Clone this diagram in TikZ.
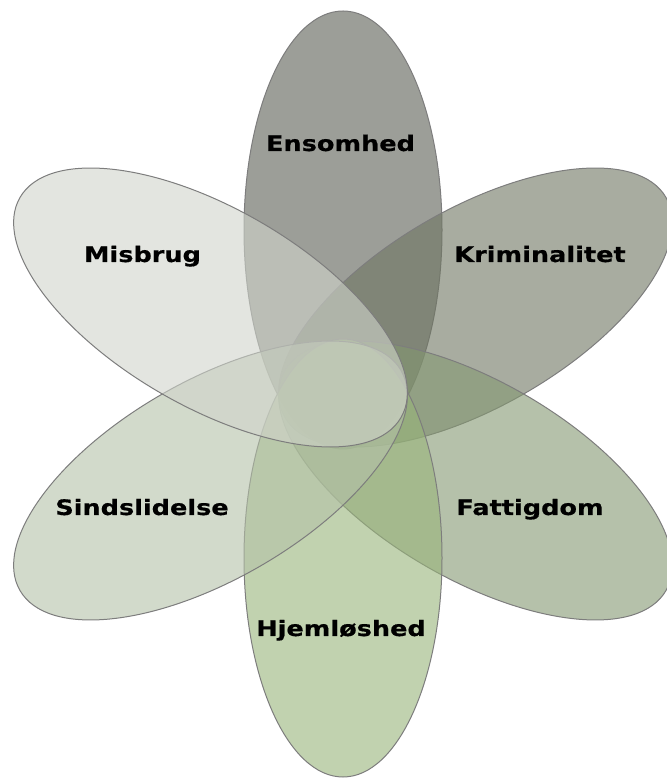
\documentclass[tikz,border=0pt]{standalone}
\usepackage{fontspec}
\newfontfamily\lab{DejaVu Sans Bold}[FakeStretch=1.2, FakeBold=0.6]
\definecolor{cEns}{RGB}{90,93,83}
\definecolor{cKri}{RGB}{110,117,97}
\definecolor{cFat}{RGB}{132,152,113}
\definecolor{cHje}{RGB}{152,180,122}
\definecolor{cSin}{RGB}{180,193,168}
\definecolor{cMis}{RGB}{208,212,203}
\definecolor{cEdge}{RGB}{125,125,125}
\tikzset{
  petal/.style={draw=cEdge, line width=1pt, fill opacity=0.6},
  lbl/.style={font=\lab\fontsize{21.3}{25}\selectfont, text=black, anchor=base, inner sep=0pt}
}
\begin{document}
\begin{tikzpicture}[x=1pt,y=1pt]
\useasboundingbox (0,0) rectangle (666,778);
\path[petal, fill=cEns] (343,548) ellipse [x radius=99, y radius=219];
\path[petal, fill=cKri, rotate around={30:(475.5,470.5)}] (475.5,470.5) ellipse [x radius=220, y radius=99];
\path[petal, fill=cFat, rotate around={-30:(475.5,297.5)}] (475.5,297.5) ellipse [x radius=220, y radius=99];
\path[petal, fill=cHje] (343,220) ellipse [x radius=99, y radius=219];
\path[petal, fill=cSin, rotate around={30:(210.5,297.5)}] (210.5,297.5) ellipse [x radius=220, y radius=99];
\path[petal, fill=cMis, rotate around={-30:(210.5,470.5)}] (210.5,470.5) ellipse [x radius=220, y radius=99];
\node[lbl] (ens) at (340.5,627) {Ensomhed};
\node[lbl] (kri) at (540,516) {Kriminalitet};
\node[lbl] (fat) at (530,263) {Fattigdom};
\node[lbl] (hje) at (341,142) {Hjemløshed};
\node[lbl] (sin) at (142,263) {Sindslidelse};
\node[lbl] (mis) at (142.5,516) {Misbrug};
\end{tikzpicture}
\end{document}
